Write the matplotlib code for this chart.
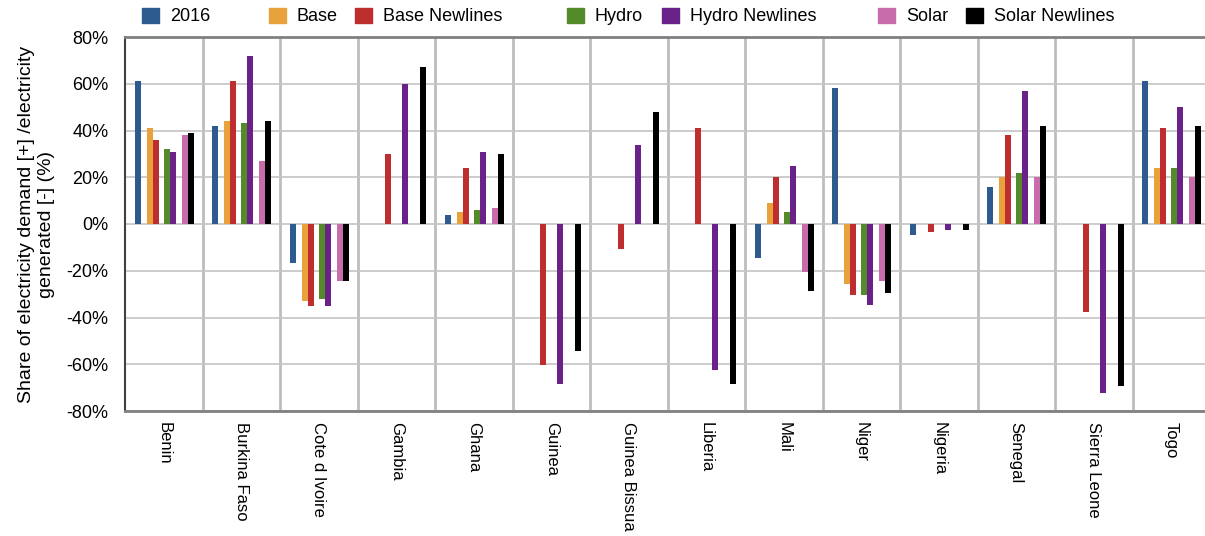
import numpy as np
import matplotlib
matplotlib.use("Agg")
import matplotlib.pyplot as plt
from matplotlib.patches import Patch
from matplotlib.ticker import PercentFormatter

plt.rcParams["font.family"] = ["Liberation Sans", "DejaVu Sans"]
plt.rcParams["axes.unicode_minus"] = False

countries = ["Benin", "Burkina Faso", "Cote d Ivoire", "Gambia", "Ghana", "Guinea",
             "Guinea Bissua", "Liberia", "Mali", "Niger", "Nigeria", "Senegal",
             "Sierra Leone", "Togo"]

# values in percent
y2016 = [61, 42, -16.5, 0, 4, 0, 0, 0, -14.5, 58, -4.5, 16, 0, 61]
base = [41, 44, -33, 0, 5, 0, 0, 0, 9, -25.5, 0, 20, 0, 24]
base_newlines = [36, 61, -35, 30, 24, -60.5, -10.5, 41, 20, -30.5, -3.3, 38, -37.5, 41]
hydro = [32, 43, -32, 0, 6, 0, 0, 0, 5, -30.5, 0, 22, 0, 24]
hydro_newlines = [31, 72, -35, 60, 31, -68.5, 34, -62.5, 25, -34.5, -2.4, 57, -72.5, 50]
solar = [38, 27, -24.5, 0, 7, 0, 0, 0, -20.5, -24.5, 0, 20, 0, 20]
solar_newlines = [39, 44, -24.5, 67, 30, -54.5, 48, -68.5, -28.5, -29.5, -2.4, 42, -69.5, 42]

series = [
    ("2016", y2016, "#2d5b8f"),
    ("Base", base, "#e9a23b"),
    ("Base Newlines", base_newlines, "#be2e2f"),
    ("Hydro", hydro, "#558a2a"),
    ("Hydro Newlines", hydro_newlines, "#6a2188"),
    ("Solar", solar, "#c96cac"),
    ("Solar Newlines", solar_newlines, "#000000"),
]

# bar centre offsets within a category, in pixels of a 77.5 px slot
offsets_px = [-26, -14, -8, 3, 9, 21, 27]
slot_px = 77.5
bar_w = 6 / slot_px

W, H = 1205, 536
fig = plt.figure(figsize=(W / 100, H / 100), dpi=100)
ax = fig.add_axes([125 / W, 1 - 411 / H, 14 * slot_px / W, 374 / H])

x = np.arange(len(countries))
for (label, vals, color), off in zip(series, offsets_px):
    ax.bar(x + off / slot_px, vals, width=bar_w, color=color, label=label, zorder=3)

ax.set_xlim(-0.5, len(countries) - 0.5)
ax.set_ylim(-80, 80)
ax.set_yticks(np.arange(-80, 81, 20))
ax.yaxis.set_major_formatter(PercentFormatter(decimals=0))
ax.set_xticks(x)
ax.set_xticklabels(countries, rotation=-90, fontsize=12)
ax.tick_params(axis="x", length=0, pad=8)
ax.tick_params(axis="y", length=0, pad=12, labelsize=13)
for lab in ax.get_xticklabels():
    lab.set_va("top")
    lab.set_ha("center")

ax.grid(axis="y", color="#c4c4c4", linewidth=1.2, zorder=0)
for b in np.arange(0.5, len(countries) - 0.5, 1):
    ax.axvline(b, color="#bdbdbd", linewidth=2, zorder=1)

ax.spines["left"].set_color("#404040")
ax.spines["left"].set_linewidth(1.5)
ax.spines["bottom"].set_color("#808080")
ax.spines["bottom"].set_linewidth(2)
ax.spines["top"].set_color("#808080")
ax.spines["top"].set_linewidth(2)
ax.spines["right"].set_visible(False)

ax.set_ylabel("Share of electricity demand [+] /electricity\ngenerated [-] (%)",
              fontsize=14, labelpad=8, linespacing=1.25)

# legend entries placed like the original
legend_x = [142, 269, 355, 567, 662, 878, 966]
for (label, vals, color), lx in zip(series, legend_x):
    fig.legend([Patch(color=color)], [label], loc="center left",
               bbox_to_anchor=(lx / W, 1 - 16.5 / H), frameon=False,
               fontsize=13, handlelength=0.95, handleheight=0.95,
               handletextpad=0.6, borderpad=0, borderaxespad=0)

fig.savefig("out.png", dpi=100)
